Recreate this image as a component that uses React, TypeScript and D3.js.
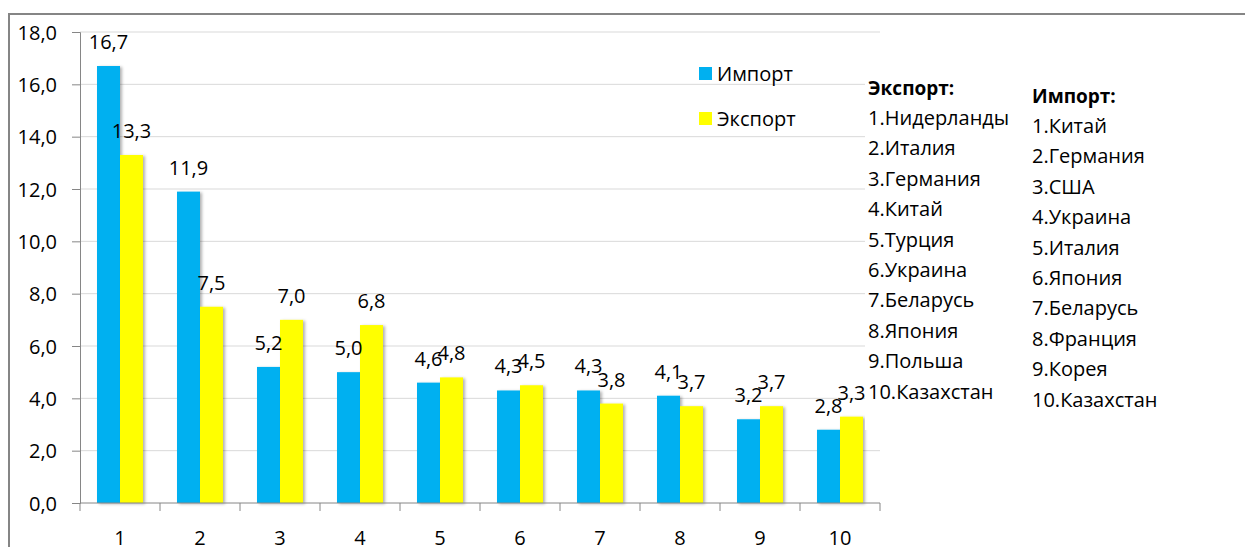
import { useEffect, useRef } from "react";
import * as d3 from "d3";

// chart data
const categories = ["1", "2", "3", "4", "5", "6", "7", "8", "9", "10"];
const importValues = [16.7, 11.9, 5.2, 5.0, 4.6, 4.3, 4.3, 4.1, 3.2, 2.8];
const exportValues = [13.3, 7.5, 7.0, 6.8, 4.8, 4.5, 3.8, 3.7, 3.7, 3.3];
const yTicks = [0, 2, 4, 6, 8, 10, 12, 14, 16, 18];
const seriesNames = ["Импорт", "Экспорт"];
const exportCountries = [
  "1.Нидерланды", "2.Италия", "3.Германия", "4.Китай", "5.Турция",
  "6.Украина", "7.Беларусь", "8.Япония", "9.Польша", "10.Казахстан",
];
const importCountries = [
  "1.Китай", "2.Германия", "3.США", "4.Украина", "5.Италия",
  "6.Япония", "7.Беларусь", "8.Франция", "9.Корея", "10.Казахстан",
];

const fmt = (v: number) => v.toFixed(1).replace(".", ",");

const App = () => {
  const ref = useRef<HTMLDivElement>(null);

  useEffect(() => {
    const width = 1245;
    const height = 547;
    const font = "'Open Sans', sans-serif";
    const fs = "20px";
    const colors = ["#00B0F0", "#FFFF00"];

    const root = d3.select(ref.current);
    root.selectAll("*").remove();

    const svg = root
      .append("svg")
      .attr("width", width)
      .attr("height", height)
      .style("position", "absolute")
      .style("left", "0px")
      .style("top", "0px")
      .style("background", "#fff");

    const defs = svg.append("defs");
    defs
      .append("filter")
      .attr("id", "shadow")
      .attr("x", "-20%")
      .attr("y", "-5%")
      .attr("width", "150%")
      .attr("height", "110%")
      .append("feDropShadow")
      .attr("dx", 2)
      .attr("dy", 1)
      .attr("stdDeviation", 1.5)
      .attr("flood-color", "#000")
      .attr("flood-opacity", 0.3);

    // outer frame
    svg
      .append("path")
      .attr("d", `M9,${height} L9,14 L${width},14`)
      .attr("fill", "none")
      .attr("stroke", "#858585")
      .attr("stroke-width", 2);

    const x0 = 80;
    const x1 = 880;
    const y0 = 503;
    const y1 = 32;

    const x = d3.scaleBand().domain(categories).range([x0, x1]);
    const xs = d3.scaleBand().domain(seriesNames).range([0, 46]);
    const y = d3.scaleLinear().domain([0, 18]).range([y0, y1]);
    const barX = (i: number, si: number) =>
      x(categories[i])! + (x.bandwidth() - 46) / 2 + xs(seriesNames[si])!;

    // gridlines
    svg
      .append("g")
      .selectAll("line")
      .data(yTicks.filter((t) => t > 0))
      .enter()
      .append("line")
      .attr("x1", x0)
      .attr("x2", x1)
      .attr("y1", (d) => y(d))
      .attr("y2", (d) => y(d))
      .attr("stroke", "#D9D9D9")
      .attr("stroke-width", 1);

    // bars
    const series = [importValues, exportValues];
    series.forEach((vals, si) => {
      svg
        .append("g")
        .selectAll("rect")
        .data(vals)
        .enter()
        .append("rect")
        .attr("x", (_, i) => barX(i, si))
        .attr("y", (d) => y(d))
        .attr("width", xs.bandwidth())
        .attr("height", (d) => y0 - y(d))
        .attr("fill", colors[si])
        .attr("filter", "url(#shadow)");
    });

    // axes
    const yAxis = d3
      .axisLeft(y)
      .tickValues(yTicks)
      .tickSize(8)
      .tickFormat((d) => fmt(d as number));
    const gy = svg.append("g").attr("transform", `translate(${x0},0)`).call(yAxis);
    gy.select(".domain").attr("stroke", "#868686");
    gy.selectAll(".tick line").attr("stroke", "#868686");
    gy.selectAll("text")
      .attr("x", -23)
      .attr("dy", "0.35em")
      .style("font-family", font)
      .style("font-size", fs)
      .attr("fill", "#000");

    const gx = svg.append("g").attr("transform", `translate(0,${y0})`);
    gx.append("line")
      .attr("x1", x0)
      .attr("x2", x1)
      .attr("y1", 0)
      .attr("y2", 0)
      .attr("stroke", "#868686");
    gx.selectAll("line.tk")
      .data(d3.range(categories.length + 1))
      .enter()
      .append("line")
      .attr("class", "tk")
      .attr("x1", (i) => x0 + i * x.bandwidth())
      .attr("x2", (i) => x0 + i * x.bandwidth())
      .attr("y1", 0)
      .attr("y2", 8)
      .attr("stroke", "#868686");
    gx.selectAll("text")
      .data(categories)
      .enter()
      .append("text")
      .attr("x", (d) => x(d)! + x.bandwidth() / 2)
      .attr("y", 42)
      .attr("text-anchor", "middle")
      .style("font-family", font)
      .style("font-size", fs)
      .text((d) => d);

    // value labels
    series.forEach((vals, si) => {
      svg
        .append("g")
        .selectAll("text")
        .data(vals)
        .enter()
        .append("text")
        .attr("x", (_, i) => barX(i, si) + xs.bandwidth() / 2)
        .attr("y", (d) => y(d) - 17)
        .attr("text-anchor", "middle")
        .style("font-family", font)
        .style("font-size", fs)
        .attr("fill", "#000")
        .text((d) => fmt(d));
    });

    // legend
    const leg = svg.append("g");
    seriesNames.forEach((name, i) => {
      leg
        .append("rect")
        .attr("x", 699)
        .attr("y", 67 + i * 45)
        .attr("width", 13)
        .attr("height", 13)
        .attr("fill", colors[i]);
      leg
        .append("text")
        .attr("x", 717)
        .attr("y", 81 + i * 45)
        .style("font-family", font)
        .style("font-size", fs)
        .text(name);
    });

    // country lists
    svg
      .append("rect")
      .attr("x", 865)
      .attr("y", 60)
      .attr("width", 380)
      .attr("height", 370)
      .attr("fill", "#fff");

    const lists = [
      { title: "Экспорт:", items: exportCountries, x: 868, y: 95 },
      { title: "Импорт:", items: importCountries, x: 1032, y: 103 },
    ];
    lists.forEach((l) => {
      const g = svg.append("g").style("font-family", font).style("font-size", fs);
      g.append("text")
        .attr("x", l.x)
        .attr("y", l.y)
        .style("font-weight", "bold")
        .style("font-size", "19px")
        .text(l.title);
      g.selectAll("text.item")
        .data(l.items)
        .enter()
        .append("text")
        .attr("class", "item")
        .attr("x", l.x)
        .attr("y", (_, i) => l.y + 30 + i * 30.4)
        .text((d) => d);
    });

    return () => {
      root.selectAll("*").remove();
    };
  }, []);

  return <div ref={ref}></div>;
};

export default App;
